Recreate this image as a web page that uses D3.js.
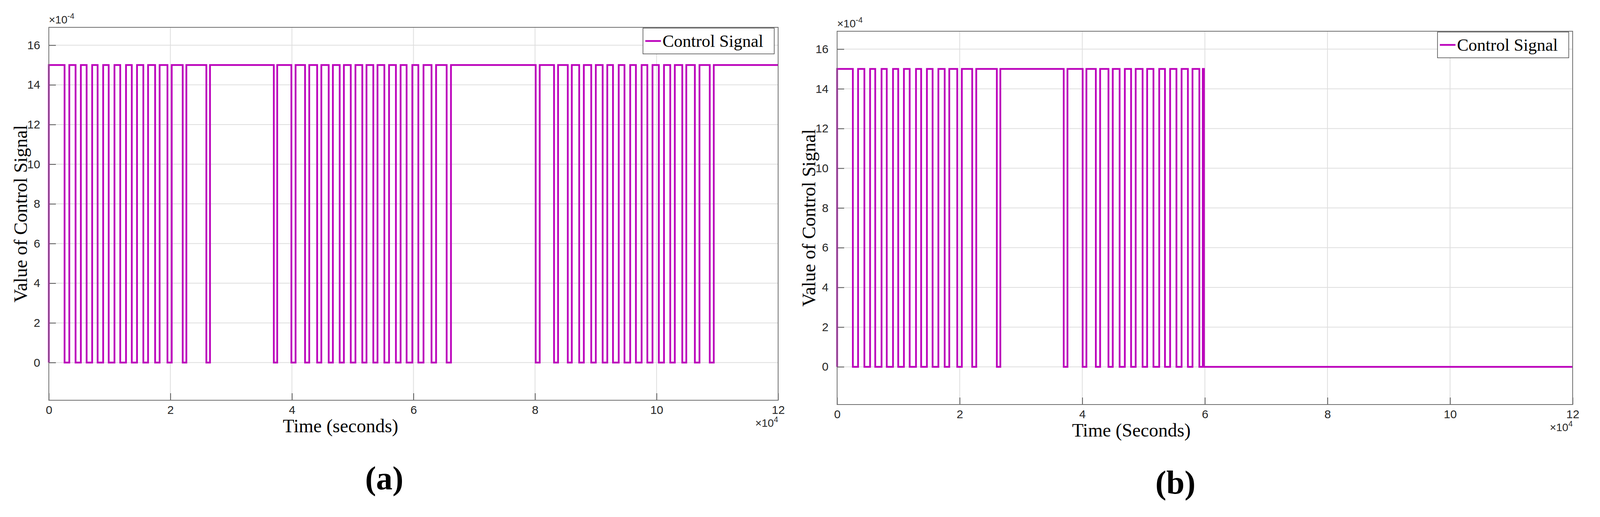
<!DOCTYPE html>
<html>
<head>
<script src="https://d3js.org/d3.v7.min.js"></script>
<style>
  body { margin: 0; background: #fff; }
</style>
</head>
<body>
<svg id="chart" width="4284" height="1324"></svg>
<script>
// low intervals (time in 1e4 s) where the signal drops from 15e-4 to 0
const lowsA = [
  [0.259,0.337],[0.44,0.527],[0.622,0.713],[0.803,0.894],[0.985,1.08],[1.175,1.27],
  [1.365,1.451],[1.555,1.633],[1.749,1.823],[1.952,2.022],[2.203,2.263],[2.592,2.652],
  [3.702,3.758],[3.991,4.06],[4.216,4.285],[4.415,4.484],[4.605,4.674],[4.786,4.855],
  [4.968,5.045],[5.158,5.227],[5.339,5.408],[5.521,5.598],[5.711,5.788],[5.887,5.981],
  [6.08,6.165],[6.297,6.372],[6.546,6.617],
  [8.011,8.077],[8.313,8.379],[8.539,8.605],[8.727,8.803],[8.925,9.0],[9.113,9.189],
  [9.283,9.377],[9.472,9.566],[9.66,9.754],[9.848,9.933],[10.037,10.122],[10.225,10.3],
  [10.423,10.489],[10.63,10.706],[10.875,10.941]
];
const lowsB = [
  [0.257,0.342],[0.445,0.538],[0.622,0.725],[0.81,0.912],[0.997,1.09],[1.184,1.287],
  [1.371,1.465],[1.558,1.652],[1.755,1.83],[1.96,2.035],[2.204,2.27],[2.606,2.663],
  [3.697,3.758],[4.006,4.067],[4.221,4.291],[4.427,4.497],[4.609,4.694],[4.796,4.871],
  [4.984,5.058],[5.161,5.255],[5.349,5.433],[5.536,5.62],[5.723,5.798],[5.91,5.966],
  [5.985,12]
];
const highLevel = 15, tEnd = 12;
const xTicks = [0,2,4,6,8,10,12];
const yTicks = [0,2,4,6,8,10,12,14,16];

function stepPoints(lows) {
  const pts = [[0,0],[0,highLevel]];
  lows.forEach(([a,b]) => {
    pts.push([a,highLevel],[a,0],[b,0]);
    if (b < tEnd) pts.push([b,highLevel]);
  });
  const last = pts[pts.length-1];
  if (last[0] < tEnd) pts.push([tEnd,last[1]]);
  return pts;
}

const svg = d3.select('#chart');
const serif = '"Liberation Serif", "DejaVu Serif", serif';
const sans = '"Liberation Sans", Arial, sans-serif';

function panel(o) {
  const x = d3.scaleLinear().domain([0,12]).range([o.left,o.right]);
  const y = d3.scaleLinear().domain([-1.9,16.9]).range([o.bottom,o.top]);
  const g = svg.append('g');

  g.selectAll('.gx').data(xTicks).join('line')
    .attr('x1',d=>x(d)).attr('x2',d=>x(d)).attr('y1',o.top).attr('y2',o.bottom)
    .attr('stroke','#dedede').attr('stroke-width',2);
  g.selectAll('.gy').data(yTicks).join('line')
    .attr('x1',o.left).attr('x2',o.right).attr('y1',d=>y(d)).attr('y2',d=>y(d))
    .attr('stroke','#dedede').attr('stroke-width',2);

  const xa = g.append('g').attr('transform',`translate(0,${o.bottom})`)
    .call(d3.axisBottom(x).tickValues(xTicks).tickSize(-18).tickPadding(14).tickFormat(d3.format('d')));
  const ya = g.append('g').attr('transform',`translate(${o.left},0)`)
    .call(d3.axisLeft(y).tickValues(yTicks).tickSize(-18).tickPadding(22).tickFormat(d3.format('d')));
  [xa,ya].forEach(a => {
    a.select('.domain').remove();
    a.selectAll('line').attr('stroke','#555').attr('stroke-width',2);
    a.selectAll('text').attr('font-family',sans).attr('font-size',30).attr('fill','#262626');
  });

  g.append('path').datum(stepPoints(o.lows))
    .attr('fill','none').attr('stroke','#bb00bb').attr('stroke-width',4.5)
    .attr('stroke-linejoin','miter')
    .attr('d', d3.line().x(d=>x(d[0])).y(d=>y(d[1])));

  g.append('rect').attr('x',o.left).attr('y',o.top)
    .attr('width',o.right-o.left).attr('height',o.bottom-o.top)
    .attr('fill','none').attr('stroke','#6e6e6e').attr('stroke-width',2);

  // exponents
  const ey = g.append('text').attr('x',o.left).attr('y',o.top-10)
    .attr('font-family',sans).attr('font-size',28).attr('fill','#262626');
  ey.append('tspan').text('×10');
  ey.append('tspan').attr('dy',-12).attr('font-size',20).text('-4');
  const ex = g.append('text').attr('x',o.right).attr('y',o.bottom+68)
    .attr('text-anchor','end').attr('font-family',sans).attr('font-size',28).attr('fill','#262626');
  ex.append('tspan').text('×10');
  ex.append('tspan').attr('dy',-12).attr('font-size',20).text('4');

  // labels
  g.append('text').attr('x',o.left+(o.right-o.left)*0.4).attr('y',o.bottom+82)
    .attr('text-anchor','middle').attr('font-family',serif).attr('font-size',48)
    .text(o.xLabel);
  g.append('text')
    .attr('transform',`translate(${o.left-56},${(o.top+o.bottom)/2}) rotate(-90)`)
    .attr('text-anchor','middle').attr('font-family',serif).attr('font-size',48)
    .text('Value of Control Signal');
  g.append('text').attr('x',o.left+(o.right-o.left)*0.46).attr('y',o.bottom+228)
    .attr('text-anchor','middle').attr('font-family',serif).attr('font-weight','bold')
    .attr('font-size',84).text(o.tag);

  // legend
  const lw = 336, lh = 66, lx = o.right-10-lw, ly = o.top+2;
  g.append('rect').attr('x',lx).attr('y',ly).attr('width',lw).attr('height',lh)
    .attr('fill','#fff').attr('stroke','#444').attr('stroke-width',1.5);
  g.append('line').attr('x1',lx+6).attr('x2',lx+46).attr('y1',ly+lh/2).attr('y2',ly+lh/2)
    .attr('stroke','#bb00bb').attr('stroke-width',4.5);
  g.append('text').attr('x',lx+50).attr('y',ly+lh/2+15)
    .attr('font-family',serif).attr('font-size',44).text('Control Signal');
}

panel({left:125, right:1992, top:70, bottom:1025, lows:lowsA, xLabel:'Time (seconds)', tag:'(a)'});
panel({left:2143, right:4026, top:80, bottom:1036, lows:lowsB, xLabel:'Time (Seconds)', tag:'(b)'});
</script>
</body>
</html>
